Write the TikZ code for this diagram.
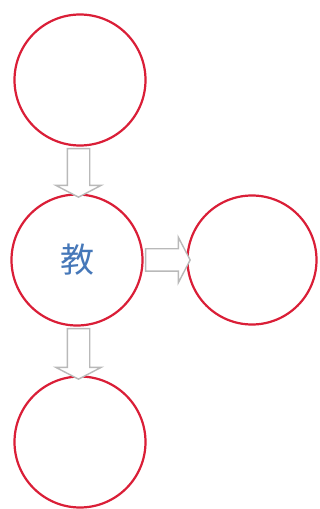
\documentclass[tikz,border=0pt]{standalone}
\usepackage{fontspec}
\newfontfamily\cjk{Noto Sans CJK SC}
\usetikzlibrary{shapes.arrows}
\definecolor{ringred}{RGB}{218,30,55}
\definecolor{arrgray}{RGB}{185,185,185}
\definecolor{txtblue}{RGB}{70,120,185}
\tikzset{
  ring/.style={circle, draw=ringred, line width=2.2pt, fill=white, inner sep=0pt, minimum size=#1},
  hollowarrow/.style={single arrow, draw=arrgray, fill=white, line width=1.4pt,
    inner xsep=0pt, inner ysep=10.5pt, minimum width=0pt,
    single arrow head extend=11.5pt, single arrow tip angle=125,
    minimum height=#1}
}
\begin{document}
\begin{tikzpicture}[x=1pt,y=1pt]
\useasboundingbox (0,0) rectangle (320,509);
\fill[white] (0,0) rectangle (320,509);
\node[ring=131pt] (top) at (80,429) {};
\node[ring=131pt] (mid) at (77,249) {\cjk\fontsize{34pt}{38pt}\selectfont\color{txtblue}教};
\node[ring=129pt] (right) at (252,249) {};
\node[ring=131pt] (bot) at (80,67) {};
\path (top.south) -- (mid.north) node[midway, rotate=-90, hollowarrow=48.5pt] (a1) {};
\path (mid.east) -- (right.west) node[midway, hollowarrow=44.5pt] (a2) {};
\path (mid.south) -- (bot.north) node[midway, rotate=-90, hollowarrow=50.5pt] (a3) {};
\end{tikzpicture}
\end{document}
